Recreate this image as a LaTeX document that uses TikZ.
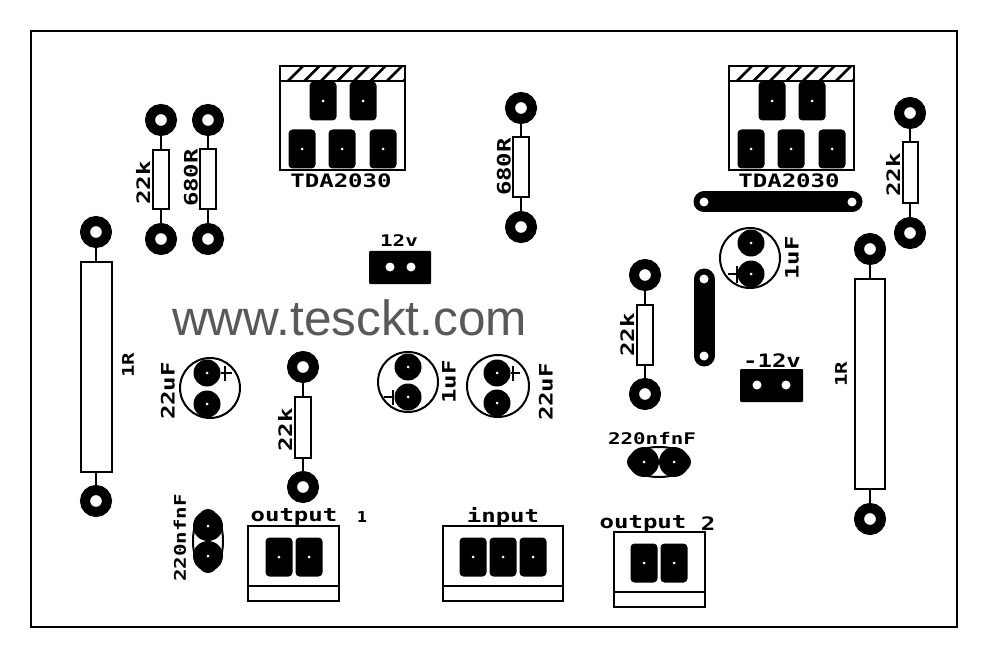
\documentclass[tikz,border=0pt]{standalone}
\usepackage{fontspec}
\setmainfont{Liberation Sans}
\newfontfamily\pcbfont[FakeStretch=1.3]{DejaVu Sans Mono Bold}
\newfontfamily\digitfont{DejaVu Sans Bold}
\tikzset{
  pcblabel/.style={font=\pcbfont\fontsize{18.5}{18.5}\selectfont,inner sep=0pt,text=black},
  smalllabel/.style={font=\pcbfont\fontsize{16}{16}\selectfont,inner sep=0pt,text=black},
  annular/.style={circle,draw=black,fill=white,line width=10pt,minimum size=22pt,inner sep=0pt},
  body/.style={rectangle,draw=black,fill=white,line width=2pt,inner sep=0pt},
  lead/.style={draw=black,line width=2pt},
  box/.style={rectangle,draw=black,fill=white,line width=2pt,inner sep=0pt},
  blockpad/.style={rectangle,fill=black,rounded corners=4pt,minimum width=27pt,minimum height=39pt,inner sep=0pt},
  roundpad/.style={circle,fill=black,minimum size=27pt,inner sep=0pt},
  ovalpad/.style={circle,fill=black,minimum size=30pt,inner sep=0pt},
  pinhole/.style={circle,fill=white,minimum size=3pt,inner sep=0pt},
  bighole/.style={circle,fill=white,minimum size=9pt,inner sep=0pt},
  capring/.style={circle,draw=black,fill=white,line width=2pt,inner sep=0pt},
  capoval/.style={ellipse,draw=black,fill=white,line width=2pt,inner sep=0pt},
  polarity/.style={draw=black,line width=2pt},
  header/.style={rectangle,fill=black,inner sep=0pt,rounded corners=1pt},
  frameline/.style={draw=black,line width=2pt},
  hatchline/.style={draw=black,line width=2.6pt},
}
\usetikzlibrary{shapes.geometric}
% id, x, y1, y2, body width, body height
\newcommand{\resistor}[6]{%
  \node[annular] (#1a) at (#2,#3) {};
  \node[annular] (#1b) at (#2,#4) {};
  \node[body,minimum width=#5pt,minimum height=#6pt] (#1) at (#2,{(#3+#4)/2}) {};
  \draw[lead] (#1a) -- (#1);
  \draw[lead] (#1b) -- (#1);
}
\newcommand{\blockpad}[3]{%
  \node[blockpad] (#1) at (#2,#3) {};
  \node[pinhole] (#1h) at (#2,#3) {};
}
\newcommand{\roundpad}[3]{%
  \node[roundpad] (#1) at (#2,#3) {};
  \node[pinhole] (#1h) at (#2,#3) {};
}
\newcommand{\ovalpad}[3]{%
  \node[ovalpad] (#1) at (#2,#3) {};
  \node[pinhole] (#1h) at (#2,#3) {};
}
\newcommand{\tda}[2]{% id, left x
  \begin{scope}[shift={(#2,0)}]
    \node[box,minimum width=125pt,minimum height=104pt] (#1) at (62.5,118) {};
    \begin{scope}
      \clip (0,66) rectangle (125,81);
      \foreach \i in {0,...,7} {\draw[hatchline] ({8+16.5*\i},81) -- ({23+16.5*\i},66);}
    \end{scope}
    \draw[frameline] (0,81) -- (125,81);
    \blockpad{#1p1}{43}{101}
    \blockpad{#1p2}{83}{101}
    \blockpad{#1p3}{22}{149}
    \blockpad{#1p4}{62}{149}
    \blockpad{#1p5}{103}{149}
  \end{scope}
}
\begin{document}
\begin{tikzpicture}[x=1pt,y=-1pt]
\useasboundingbox (0,0) rectangle (989,658);
\fill[white] (0,0) rectangle (989,658);
\node[box,minimum width=926pt,minimum height=596pt] (frame) at (494,329) {};

% ICs
\tda{icl}{280}
\tda{icr}{729}
\node[pcblabel] (tl) at (341,181) {TDA2030};
\node[pcblabel] (tr) at (789,181) {TDA2030};

% resistors
\resistor{ra}{161}{120}{239}{16}{59}
\resistor{rb}{208}{120}{239}{16}{60}
\resistor{rc}{521}{108}{227}{16}{60}
\resistor{rd}{910}{113}{233}{15}{61}
\resistor{re}{645}{275}{394}{16}{60}
\resistor{rf}{303}{367}{487}{16}{61}
\resistor{rg}{96}{232}{501}{31}{210}
\resistor{rh}{870}{249}{519}{30}{210}
\node[pcblabel,rotate=90] (la) at (143,183) {22k};
\node[pcblabel,rotate=90] (lb) at (191,178) {680R};
\node[pcblabel,rotate=90] (lc) at (504,167) {680R};
\node[pcblabel,rotate=90] (ld) at (893,175) {22k};
\node[pcblabel,rotate=90] (le) at (627,335) {22k};
\node[pcblabel,rotate=90] (lf) at (285,430) {22k};
\node[smalllabel,rotate=90] (lg) at (128,365) {1R};
\node[smalllabel,rotate=90] (lh) at (841,374) {1R};

% electrolytic capacitors
\node[capring,minimum size=60pt] (ca) at (210,388) {};
\roundpad{caa}{207}{373}
\roundpad{cab}{207}{404}
\draw[polarity] (caa) -- (232,373) (225,366) -- (225,381);
\node[pcblabel,rotate=90] (lca) at (168,391) {22uF};

\node[capring,minimum size=60pt] (cb) at (408,382) {};
\roundpad{cba}{408}{367}
\roundpad{cbb}{408}{397}
\draw[polarity] (cbb) -- (384,397) (393,390) -- (393,405);
\node[pcblabel,rotate=90] (lcb) at (449,382) {1uF};

\node[capring,minimum size=62pt] (cc) at (498,386) {};
\roundpad{cca}{497}{373}
\roundpad{ccb}{497}{403}
\draw[polarity] (cca) -- (520,373) (513,366) -- (513,381);
\node[pcblabel,rotate=90] (lcc) at (546,392) {22uF};

\node[capring,minimum size=60pt] (cd) at (750,258) {};
\roundpad{cda}{751}{243}
\roundpad{cdb}{751}{274}
\draw[polarity] (cdb) -- (728,274) (737,266) -- (737,283);
\node[pcblabel,rotate=90] (lcd) at (792,258) {1uF};

% small capacitors
\node[capoval,minimum width=30pt,minimum height=62pt] (ce) at (208,541) {};
\ovalpad{cea}{208}{526}
\ovalpad{ceb}{208}{556}
\node[smalllabel,rotate=90] (lce) at (180,538) {220nfnF};

\node[capoval,minimum width=62pt,minimum height=30pt] (cf) at (659,462) {};
\ovalpad{cfa}{644}{462}
\ovalpad{cfb}{674}{462}
\node[smalllabel] (lcf) at (652,439) {220nfnF};

% terminals
\node[box,minimum width=91pt,minimum height=75pt] (ta) at (293.5,563.5) {};
\draw[frameline] (ta.west |- 0,586) -- (ta.east |- 0,586);
\blockpad{taa}{279}{557}
\blockpad{tab}{309}{557}
\node[pcblabel] (lta) at (294,517) {output};
\node[font=\digitfont\fontsize{15}{15}\selectfont,inner sep=0pt] (lta1) at (362,517) {1};

\node[box,minimum width=120pt,minimum height=75pt] (tb) at (503,563.5) {};
\draw[frameline] (tb.west |- 0,586) -- (tb.east |- 0,586);
\blockpad{tba}{473}{557}
\blockpad{tbb}{503}{557}
\blockpad{tbc}{533}{557}
\node[pcblabel] (ltb) at (503,517) {input};

\node[box,minimum width=91pt,minimum height=75pt] (tc) at (659.5,569.5) {};
\draw[frameline] (tc.west |- 0,592) -- (tc.east |- 0,592);
\blockpad{tca}{644}{563}
\blockpad{tcb}{674}{563}
\node[pcblabel] (ltc) at (643,524) {output};
\node[pcblabel] (ltc2) at (708,524) {2};

% headers
\node[header,minimum width=62pt,minimum height=33pt] (ha) at (400,267.5) {};
\node[bighole] (haa) at (390,267) {};
\node[bighole] (hab) at (411,267) {};
\node[smalllabel] (lha) at (399,241) {12v};

\node[header,minimum width=63pt,minimum height=33pt] (hb) at (771.5,385.5) {};
\node[bighole] (hba) at (757,385) {};
\node[bighole] (hbb) at (786,385) {};
\node[pcblabel] (lhb) at (772,361) {-12v};

% wire links
\coordinate (wa1) at (704,202);
\coordinate (wa2) at (852,202);
\draw[black,line width=21pt,line cap=round] (wa1) -- (wa2);
\node[bighole] at (wa1) {};
\node[bighole] at (wa2) {};
\coordinate (wb1) at (704,279);
\coordinate (wb2) at (704,356);
\draw[black,line width=21pt,line cap=round] (wb1) -- (wb2);
\node[bighole] at (wb1) {};
\node[bighole] at (wb2) {};

% watermark
\node[font=\fontsize{49.5}{49.5}\selectfont,text=black!65,inner sep=0pt] (web) at (349.5,318) {www.tesckt.com};
\end{tikzpicture}
\end{document}
